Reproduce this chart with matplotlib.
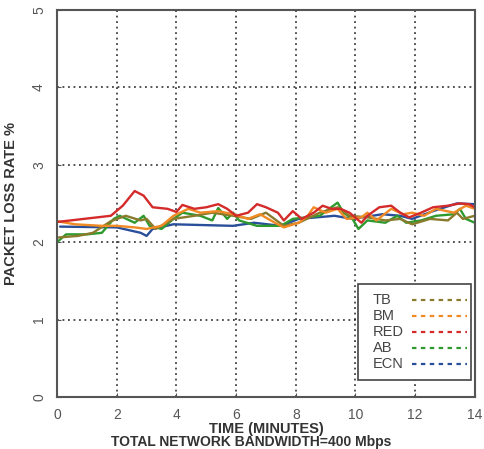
import matplotlib
matplotlib.use('Agg')
import matplotlib.pyplot as plt
from matplotlib.patches import Rectangle

plt.rcParams['font.family'] = ['Liberation Sans', 'DejaVu Sans']

# Donnees
x_red = [0, 0.9, 1.8, 2.2, 2.6, 2.9, 3.2, 3.7, 4.0, 4.2, 4.6, 5.0, 5.4, 5.7, 6.0, 6.4, 6.7, 7.0, 7.4, 7.6, 7.9,
         8.2, 8.6, 8.9, 9.2, 9.5, 9.8, 10.2, 10.4, 10.8, 11.2, 11.5, 11.8, 12.2, 12.6, 13.1, 13.5, 13.8, 14.0]
y_red = [2.26, 2.30, 2.34, 2.47, 2.66, 2.60, 2.45, 2.43, 2.39, 2.48, 2.43, 2.45, 2.49, 2.43, 2.34, 2.38, 2.49,
         2.45, 2.38, 2.28, 2.40, 2.30, 2.38, 2.47, 2.43, 2.43, 2.38, 2.25, 2.34, 2.45, 2.47, 2.38, 2.32, 2.38,
         2.45, 2.47, 2.50, 2.49, 2.45]

x_ecn = [0.1, 2.0, 2.8, 3.0, 3.2, 3.9, 5.9, 6.6, 7.5, 8.1, 9.3, 9.9, 10.9, 11.5, 11.9, 12.6, 13.4, 14.0]
y_ecn = [2.20, 2.19, 2.12, 2.08, 2.17, 2.23, 2.21, 2.25, 2.21, 2.30, 2.34, 2.30, 2.36, 2.34, 2.30, 2.40, 2.50, 2.49]

x_ab = [0, 0.3, 1.0, 1.5, 1.9, 2.1, 2.6, 2.9, 3.1, 3.5, 3.9, 4.2, 4.8, 5.2, 5.4, 5.7, 5.9, 6.1, 6.7, 7.5, 7.9,
        8.8, 9.4, 9.6, 9.9, 10.1, 10.4, 11.0, 11.4, 11.7, 12.2, 12.7, 13.3, 13.5, 13.7, 14.0]
y_ab = [2.00, 2.10, 2.10, 2.12, 2.30, 2.34, 2.25, 2.34, 2.21, 2.17, 2.30, 2.38, 2.34, 2.28, 2.44, 2.30, 2.38,
        2.28, 2.21, 2.21, 2.30, 2.34, 2.51, 2.38, 2.30, 2.17, 2.28, 2.25, 2.34, 2.25, 2.28, 2.34, 2.36, 2.43,
        2.30, 2.25]

x_tb = [0.05, 0.7, 1.2, 1.8, 2.3, 2.8, 3.0, 3.3, 3.9, 4.6, 5.2, 5.9, 6.5, 7.0, 7.6, 8.1, 8.8, 9.4, 9.8, 10.4,
        11.0, 11.5, 11.9, 12.5, 13.1, 13.4, 13.6, 14.0]
y_tb = [2.06, 2.08, 2.12, 2.27, 2.34, 2.28, 2.30, 2.17, 2.30, 2.34, 2.38, 2.34, 2.30, 2.38, 2.21, 2.25, 2.38,
        2.45, 2.34, 2.32, 2.28, 2.30, 2.23, 2.30, 2.28, 2.38, 2.30, 2.34]

x_bm = [0, 0.6, 1.5, 2.0, 2.6, 3.0, 3.5, 3.9, 4.4, 4.8, 5.4, 5.9, 6.4, 6.8, 7.3, 7.6, 8.1, 8.4, 8.6, 9.0, 9.4,
        9.7, 10.2, 10.4, 10.7, 11.2, 11.6, 11.9, 12.3, 12.7, 13.3, 13.7, 14.0]
y_bm = [2.27, 2.23, 2.21, 2.21, 2.19, 2.17, 2.21, 2.34, 2.43, 2.38, 2.40, 2.36, 2.30, 2.36, 2.25, 2.19, 2.25,
        2.34, 2.45, 2.38, 2.43, 2.30, 2.32, 2.38, 2.28, 2.43, 2.36, 2.38, 2.34, 2.43, 2.38, 2.47, 2.43]

noms = ['TB', 'BM', 'RED', 'AB', 'ECN']
couleurs = ['#8a7a2c', '#f08a24', '#d42a2a', '#2e9a2e', '#2a4f9a']
series = [(x_tb, y_tb), (x_bm, y_bm), (x_red, y_red), (x_ab, y_ab), (x_ecn, y_ecn)]
ordre = [4, 3, 0, 1, 2]  # ordre de trace

fig = plt.figure(figsize=(4.84, 4.49), dpi=100)
ax = fig.add_axes([0.118, 0.116, 0.863, 0.862])

for i in ordre:
    xs, ys = series[i]
    ax.plot(xs, ys, color=couleurs[i], lw=1.7, solid_capstyle='round')

ax.set_xlim(0, 14)
ax.set_ylim(0, 5)
ax.set_xticks(range(0, 15, 2))
ax.set_yticks(range(0, 6))
ax.grid(True, color='#222222', linestyle=(0, (1.2, 2.4)), linewidth=1.1)
for s in ax.spines.values():
    s.set_color('#555555')
    s.set_linewidth(1.5)
ax.tick_params(length=3, direction='in', colors='#555555', labelsize=10, pad=8)
plt.setp(ax.get_yticklabels(), rotation=90, va='center')
ax.set_xlabel('TIME (MINUTES)', fontsize=10.5, fontweight='bold', color='#333333', labelpad=0)
ax.set_ylabel('PACKET LOSS RATE %', fontsize=10.5, fontweight='bold', color='#333333', labelpad=10)
fig.text(0.52, 0.0, 'TOTAL NETWORK BANDWIDTH=400 Mbps', ha='center', va='bottom',
         fontsize=10, fontweight='bold', color='#333333')

# legende faite a la main : noms a gauche, pointilles a droite
cadre = Rectangle((0.72, 0.044), 0.27, 0.248, transform=ax.transAxes, facecolor='white',
                  edgecolor='#444444', lw=1.2, zorder=5)
ax.add_patch(cadre)
for k in range(len(noms)):
    yk = 0.251 - k * 0.0415
    ax.text(0.756, yk, noms[k], transform=ax.transAxes, fontsize=10.5, color='#444444',
            va='center', ha='left', zorder=6)
    ax.plot([0.85, 0.982], [yk, yk], transform=ax.transAxes, color=couleurs[k], lw=1.6,
            linestyle=(0, (2, 2)), zorder=6)

fig.savefig('out.png', dpi=100)
